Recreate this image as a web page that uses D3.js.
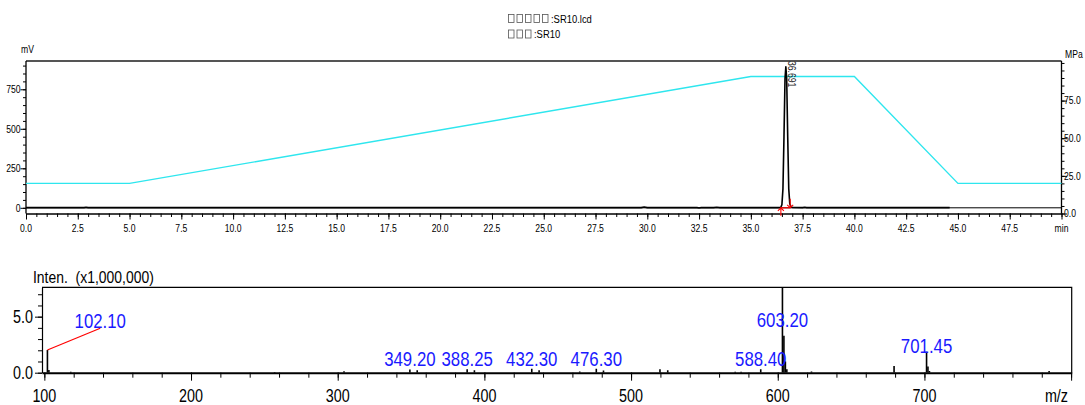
<!DOCTYPE html>
<html><head><meta charset="utf-8">
<script src="https://cdn.jsdelivr.net/npm/d3@7"></script>
<style>
body{margin:0;background:#fff;}
svg{display:block;}
text{font-family:"Liberation Sans",Arial,sans-serif;}
</style></head>
<body>
<svg id="c" width="1085" height="405"></svg>
<script>
// ---------- data ----------
const titleBoxCount = [5, 3];
const titleTexts = [":SR10.lcd", ":SR10"];
// chromatogram (min, mV)
const chromTime = [0, 2.8, 2.9, 3.0, 29.7, 29.85, 30.0, 32.4, 32.5, 32.6, 33.2, 33.35, 33.5, 36.3, 36.45, 36.5, 36.55, 36.6, 36.65, 36.69, 36.73, 36.78, 36.83, 36.88, 36.95, 37.0, 37.5, 37.6, 37.7, 44.6];
const chromMV   = [1, 1, 4, 1, 1, 5, 1, 1, -1, 1, 1, 4, 1, 1, 3, 20, 120, 450, 820, 892, 820, 450, 120, 25, 5, 3, 1, 4, 1, 1];
// pump pressure program (min, MPa)
const pressTime = [0, 5, 35, 40, 45, 50];
const pressMPa  = [20, 20, 91, 91, 20, 20];
const peakRT = 36.691;
const peakStart = 36.45, peakEnd = 36.9;
const mvTicks = [0, 250, 500, 750];
const mpaTicks = [0, 25, 50, 75];
// mass spectrum (m/z, intensity x1,000,000)
const msMz  = [102.1, 103.1, 118.0, 257.0, 304.3, 349.2, 354.2, 388.25, 393.2, 432.3, 437.3, 465.0, 476.3, 481.2, 519.7, 525.0, 571.0, 575.0, 588.4, 603.2, 604.2, 605.2, 606.2, 623.0, 679.3, 701.45, 702.4, 703.4, 785.0];
const msInt = [2.03, 0.25, 0.08, 0.06, 0.12, 0.28, 0.22, 0.3, 0.22, 0.35, 0.22, 0.1, 0.35, 0.2, 0.3, 0.22, 0.08, 0.08, 0.3, 7.9, 3.3, 1.0, 0.3, 0.1, 0.6, 1.88, 0.55, 0.15, 0.15];
const labelText  = ["102.10", "349.20", "388.25", "432.30", "476.30", "588.40", "603.20", "701.45"];
const labelMz    = [102.1, 349.2, 388.25, 432.3, 476.3, 588.4, 603.2, 701.45];
const labelLevel = [3.96, 0.6, 0.6, 0.6, 0.6, 0.6, 4.1, 1.73];
const labelShiftMz = [36, 0, 0, 0, 0, 0, 0, 0];

const SX = 0.82; // narrow face emulation
function txt(parent, x, y, str, size, anchor, fill) {
  return parent.append("text")
    .attr("transform", `translate(${x},${y}) scale(${SX},1)`)
    .attr("font-size", size).attr("text-anchor", anchor || "start")
    .attr("fill", fill || "#000").text(str);
}

// ---------- top chart ----------
const svg = d3.select("#c");
const tX = d3.scaleLinear().domain([0, 50]).range([26, 1061.5]);
const tY = d3.scaleLinear().domain([-36, 929]).range([213.5, 61]);
const pY = d3.scaleLinear().domain([0, 101.3]).range([213.5, 61]);

// title (unrenderable glyphs shown as boxes, as in the reference)
titleBoxCount.forEach((n, i) => {
  const base = 22.5 + i * 15.5;
  d3.range(n).forEach(k => {
    svg.append("rect").attr("x", 508.5 + k * 8.5).attr("y", base - 8).attr("width", 5.5).attr("height", 8)
      .attr("fill", "none").attr("stroke", "#555").attr("stroke-width", 0.8);
  });
  txt(svg, 508 + n * 8.5 + 0.5, base, titleTexts[i], 11.5);
});

const topG = svg.append("g");
topG.append("line").attr("x1", tX(0)).attr("x2", tX(50)).attr("y1", 61).attr("y2", 61)
  .attr("stroke", "#555").attr("stroke-width", 2);

const xMinor = d3.range(0, 50.01, 0.5);
const xMajor = d3.range(0, 50.01, 2.5);
topG.append("g").attr("transform", "translate(0,213.5)")
  .call(d3.axisBottom(tX).tickValues(xMinor).tickSize(3.5).tickFormat("").tickSizeOuter(0))
  .call(g => g.select(".domain").attr("stroke", "#000").attr("stroke-width", 1.3));
topG.append("g").attr("transform", "translate(0,213.5)")
  .call(d3.axisBottom(tX).tickValues(xMajor).tickSize(6).tickFormat("").tickSizeOuter(0))
  .call(g => g.select(".domain").remove());
xMajor.forEach(d => txt(topG, tX(d), 231.5, d === 50 ? "min" : d3.format(".1f")(d), 10.5, "middle"));

topG.append("g").attr("transform", "translate(26,0)")
  .call(d3.axisLeft(tY).tickValues(d3.range(0, 929, 50)).tickSize(3).tickFormat("").tickSizeOuter(0))
  .call(g => g.select(".domain").attr("d", `M0,${tY.range()[0]}V61`).attr("stroke", "#000").attr("stroke-width", 1.3));
topG.append("g").attr("transform", "translate(26,0)")
  .call(d3.axisLeft(tY).tickValues(mvTicks).tickSize(5.5).tickFormat("").tickSizeOuter(0))
  .call(g => g.select(".domain").remove());
mvTicks.forEach(d => txt(topG, 20.5, tY(d) + 3.8, String(d), 10.5, "end"));
txt(topG, 21, 52.5, "mV", 10.5);

topG.append("g").attr("transform", `translate(${tX(50)},0)`)
  .call(d3.axisRight(pY).tickValues(d3.range(0, 101, 5)).tickSize(3).tickFormat("").tickSizeOuter(0))
  .call(g => g.select(".domain").attr("d", `M0,${pY.range()[0]}V61`).attr("stroke", "#000").attr("stroke-width", 1.3));
topG.append("g").attr("transform", `translate(${tX(50)},0)`)
  .call(d3.axisRight(pY).tickValues(mpaTicks).tickSize(5.5).tickFormat("").tickSizeOuter(0))
  .call(g => g.select(".domain").remove());
mpaTicks.forEach(d => txt(topG, tX(50) + 2.5, pY(d) + 3.8, d3.format(".1f")(d), 10.5));
txt(topG, 1065, 57.5, "MPa", 10.5);

topG.append("line").attr("x1", tX(0)).attr("x2", tX(50)).attr("y1", tY(0)).attr("y2", tY(0))
  .attr("stroke", "#000").attr("stroke-width", 1);

topG.append("path").datum(pressTime.map((t, i) => [t, pressMPa[i]]))
  .attr("d", d3.line().x(d => tX(d[0])).y(d => pY(d[1])))
  .attr("fill", "none").attr("stroke", "#2ee6ee").attr("stroke-width", 1.4);

topG.append("path").datum(chromTime.map((t, i) => [t, chromMV[i]]))
  .attr("d", d3.line().x(d => tX(d[0])).y(d => tY(d[1])))
  .attr("fill", "none").attr("stroke", "#000").attr("stroke-width", 1.6).attr("stroke-linejoin", "round");

const by = tY(0);
topG.append("line").attr("x1", tX(peakStart)).attr("x2", tX(peakEnd)).attr("y1", by).attr("y2", by)
  .attr("stroke", "red").attr("stroke-width", 1.2);
topG.append("path").attr("d", `M${tX(peakStart)},${by + 8}V${by}M${tX(peakStart) - 3},${by + 3}L${tX(peakStart)},${by}L${tX(peakStart) + 3},${by + 3}`)
  .attr("fill", "none").attr("stroke", "red").attr("stroke-width", 1.1);
topG.append("path").attr("d", `M${tX(peakEnd)},${by - 9}V${by}M${tX(peakEnd) - 3},${by - 3}L${tX(peakEnd)},${by}L${tX(peakEnd) + 3},${by - 3}`)
  .attr("fill", "none").attr("stroke", "red").attr("stroke-width", 1.1);
topG.append("text").attr("transform", `translate(${tX(peakRT) + 2},61) rotate(90) scale(${SX},1)`)
  .attr("font-size", 10.5).attr("fill", "#222").text(d3.format(".3f")(peakRT));

// ---------- bottom chart ----------
const mX = d3.scaleLinear().domain([98.4, 800.4]).range([42, 1071.7]);
const mY = d3.scaleLinear().domain([0, 7.62]).range([372.7, 287.3]);
const bot = svg.append("g");

svg.append("defs").append("clipPath").attr("id", "msclip")
  .append("rect").attr("x", 42).attr("y", 287.3).attr("width", 1071.7 - 42).attr("height", 372.7 - 287.3);

bot.append("path").attr("d", `M42,287.3H1071.7V372.7`).attr("fill", "none").attr("stroke", "#000").attr("stroke-width", 1.2);

bot.append("g").attr("transform", "translate(0,372.7)")
  .call(d3.axisBottom(mX).tickValues(d3.range(100, 801, 20)).tickSize(5).tickFormat("").tickSizeOuter(0))
  .call(g => g.select(".domain").attr("stroke", "#000").attr("stroke-width", 2));
bot.append("g").attr("transform", "translate(0,372.7)")
  .call(d3.axisBottom(mX).tickValues(d3.range(100, 801, 100)).tickSize(8).tickFormat("").tickSizeOuter(0))
  .call(g => g.select(".domain").remove());
d3.range(100, 701, 100).forEach(d => txt(bot, mX(d), 401.5, String(d), 17.5, "middle"));
txt(bot, 1068, 401.5, "m/z", 17.5, "end");

bot.append("g").attr("transform", "translate(42,0)")
  .call(d3.axisLeft(mY).tickValues(d3.range(0, 7.6, 1)).tickSize(4).tickFormat("").tickSizeOuter(0))
  .call(g => g.select(".domain").attr("stroke", "#000").attr("stroke-width", 1.2));
bot.append("g").attr("transform", "translate(42,0)")
  .call(d3.axisLeft(mY).tickValues([0, 5]).tickSize(7).tickFormat("").tickSizeOuter(0))
  .call(g => g.select(".domain").remove());
[0, 5].forEach(d => txt(bot, 33, mY(d) + 6.3, d3.format(".1f")(d), 17.5, "end"));
txt(bot, 33, 283, "Inten.  (x1,000,000)", 17).attr("xml:space", "preserve");

bot.append("g").attr("clip-path", "url(#msclip)")
  .selectAll("line").data(msMz.map((m, i) => [m, msInt[i]])).join("line")
  .attr("x1", d => mX(d[0])).attr("x2", d => mX(d[0]))
  .attr("y1", mY(0)).attr("y2", d => mY(d[1]))
  .attr("stroke", "#000").attr("stroke-width", 1.6);

labelText.forEach((t, i) => {
  const lx = mX(labelMz[i] + labelShiftMz[i]);
  const ly = mY(labelLevel[i]);
  if (labelShiftMz[i]) {
    const pk = msInt[msMz.indexOf(labelMz[i])];
    bot.append("line").attr("x1", mX(labelMz[i])).attr("y1", mY(pk))
      .attr("x2", lx).attr("y2", ly).attr("stroke", "red").attr("stroke-width", 1.2);
  }
  txt(bot, lx, ly, t, 20.5, "middle", "#1a1aff");
});
</script>
</body></html>
